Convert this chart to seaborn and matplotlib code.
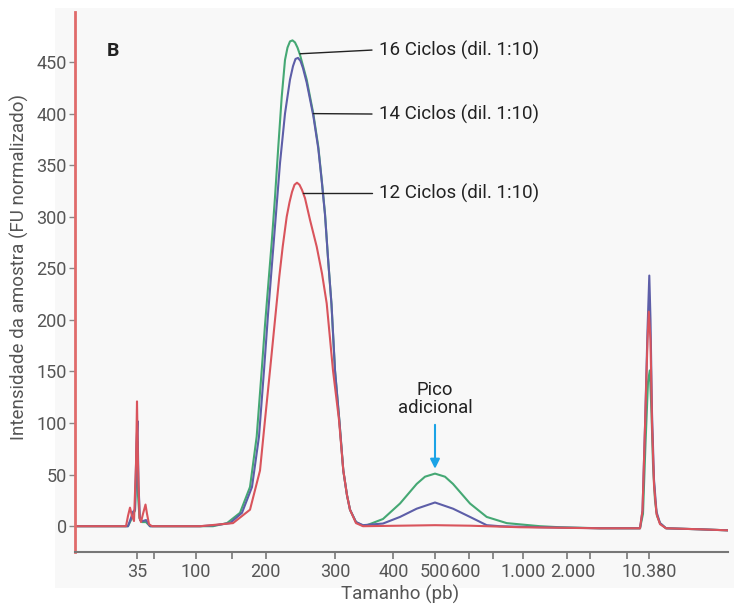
import matplotlib
matplotlib.use("Agg")
import matplotlib.pyplot as plt
from matplotlib.patches import Rectangle
from matplotlib.transforms import ScaledTranslation
import seaborn as sns
import pandas as pd

# ---------------- data (migration position, FU) ----------------
series_names = ["16 Ciclos (dil. 1:10)", "14 Ciclos (dil. 1:10)", "12 Ciclos (dil. 1:10)"]

pos_16 = [75, 120, 128, 131, 133, 135, 136.5, 137.2, 138, 139.5, 142, 146, 150, 200, 213, 227, 240, 250,
          256.7, 261.7, 265, 268.5, 271.7, 275, 278.3, 281.7, 285, 287.5, 290, 292.5, 295, 297.5, 300, 306.7,
          313.3, 318.3, 321.7, 325, 328, 331.5, 335, 339.3, 343.3, 347, 350, 356, 363, 367, 383, 400, 416.7,
          425, 435, 445, 453, 470, 486.7, 506.7, 540, 560, 600, 640, 643, 645.5, 648, 649.8, 651.5, 653,
          655, 657, 660, 666, 700, 728]
fu_16 = [0, 0, 0, 6, 12, 15, 60, 82, 30, 8, 4, 4, 0, 0, 0, 3, 13, 38,
         87, 151, 195, 237, 275, 319, 368, 416, 452, 464, 470, 471, 469, 464, 457, 433,
         400, 368, 336, 303, 260, 215, 151, 103, 54, 30, 16, 4, 0.5, 1, 7, 22, 41,
         48, 51, 48, 41, 22, 9, 3, 0, -1, -2, -2, 12, 80, 140, 151, 110, 60,
         25, 10, 3, -2, -3, -4]

pos_14 = [75, 120, 128, 131, 133, 135, 136.5, 137.5, 138.5, 140, 143, 146, 150, 200, 215, 230, 242, 252,
          259, 264, 268, 272.3, 276, 280, 285, 290, 293, 295.5, 298, 300.5, 303, 306.7, 313.3, 318.3, 321.7,
          325, 328, 331.5, 335, 339.3, 343.3, 347, 350, 356, 363, 383, 400, 416.7, 435, 453, 470, 486.7,
          500, 540, 600, 640, 642.5, 645, 647.5, 649.3, 650.5, 652, 654, 656.5, 660, 666, 700, 728]
fu_14 = [0, 0, 0, 8, 14, 16, 80, 102, 40, 6, 5, 6, 0, 0, 1, 3, 13, 38,
         87, 151, 205, 258, 303, 352, 400, 433, 446, 453, 454, 451, 444, 430, 398, 366, 335,
         302, 260, 215, 151, 103, 54, 30, 16, 4, 1, 2.6, 9, 17, 23, 17, 9, 1,
         0, -1, -2, -2, 15, 96, 190, 243, 200, 110, 45, 14, 3, -2, -3, -4]

pos_12 = [75, 120, 126, 128, 130, 132, 134, 136, 137, 138, 139.5, 141, 143, 145.5, 147, 149, 152, 200,
          233, 250, 260, 265, 270, 275, 279.3, 282.7, 286.7, 289.5, 292, 294.5, 297, 299.5, 302, 305,
          310, 316.7, 322, 326.7, 333, 339, 343.3, 347, 350, 356, 363, 400, 435, 470, 520, 600, 640,
          642.5, 645, 647.5, 648.8, 650.5, 652, 654, 656.5, 660, 666, 700, 728]
fu_12 = [0, 0, 0, 10, 18, 10, 5, 60, 121, 60, 8, 4, 12, 21, 12, 2, 0, 0,
         3, 16, 54, 103, 151, 200, 242, 271, 300, 314, 324, 331, 333, 331, 326, 318,
         297, 271, 245, 216, 151, 103, 54, 30, 16, 3, 0, 0.5, 1, 0.5, -1, -2, -2,
         15, 96, 180, 208, 180, 100, 40, 12, 2, -2, -3, -4]

tick_pos = [137, 196, 265.7, 335, 393.3, 435, 469.3, 522.7, 566.7, 649.3]
tick_labels = ["35", "100", "200", "300", "400", "500", "600", "1.000", "2.000", "10.380"]
minor_tick_pos = [154, 231.7, 493.3, 590, 626.7]
y_ticks = [0, 50, 100, 150, 200, 250, 300, 350, 400, 450]

df = pd.concat([
    pd.DataFrame({"pos": pos_16, "fu": fu_16, "serie": series_names[0]}),
    pd.DataFrame({"pos": pos_14, "fu": fu_14, "serie": series_names[1]}),
    pd.DataFrame({"pos": pos_12, "fu": fu_12, "serie": series_names[2]}),
], ignore_index=True)

# ---------------- style ----------------
sns.set_theme(style="white")
plt.rcParams["font.family"] = ["Roboto", "DejaVu Sans"]

fig = plt.figure(figsize=(7.34, 6.08), dpi=100)
fig.patch.set_facecolor("white")
bg = Rectangle((55 / 734, 20 / 608), 679 / 734, 580 / 608,
               transform=fig.transFigure, facecolor="#f8f8f8",
               edgecolor="none", zorder=-10)
fig.add_artist(bg)
ax = fig.add_axes([75 / 734, 56 / 608, 653 / 734, 540 / 608])
ax.set_zorder(5)
ax.set_facecolor("none")

palette = {series_names[0]: "#45a874", series_names[1]: "#5d5ea8", series_names[2]: "#d9545c"}
sns.lineplot(data=df, x="pos", y="fu", hue="serie", palette=palette, estimator=None,
             sort=False, legend=False, linewidth=1.5, ax=ax,
             hue_order=series_names)

ax.set_xlim(75, 728)
ax.set_ylim(-25, 498.5)

for s in ["top", "right"]:
    ax.spines[s].set_visible(False)
ax.spines["left"].set_color("#e06b6b")
ax.spines["left"].set_linewidth(2)
ax.spines["bottom"].set_color("#777777")
ax.spines["bottom"].set_linewidth(1.5)

ax.set_xticks(tick_pos)
ax.set_xticklabels(tick_labels)
ax.set_xticks(minor_tick_pos, minor=True)
ax.set_yticks(y_ticks)
ax.tick_params(axis="x", which="both", direction="out", length=5, width=1.2,
               color="#777777", labelsize=13, labelcolor="#555555", pad=3, bottom=True)
ax.tick_params(axis="y", direction="out", length=4, width=1, color="#888888",
               labelsize=13, labelcolor="#555555", pad=2, left=True)

# small label nudges as in the original layout
label_shift = {"600": -3, "2.000": 6}
for lab in ax.get_xticklabels():
    dx = label_shift.get(lab.get_text())
    if dx:
        lab.set_transform(lab.get_transform() + ScaledTranslation(dx / 100, 0, fig.dpi_scale_trans))

ax.set_xlabel("Tamanho (pb)", fontsize=13.5, color="#555555")
ax.set_ylabel("Intensidade da amostra (FU normalizado)", fontsize=13.5, color="#555555")
ax.xaxis.set_label_coords(0.498, -0.06)
ax.yaxis.set_label_coords(-0.071, 0.528)

# panel letter
ax.text(113, 461, "B", fontsize=14, fontweight="bold", color="#222222", ha="center", va="center")

# series labels with leader lines
label_specs = [(series_names[0], (300, 458), 461.6),
               (series_names[1], (313.3, 400), 399.6),
               (series_names[2], (303.3, 323), 323)]
for text, (px, py), ty in label_specs:
    ax.plot([px, 372], [py, ty], color="#222222", lw=1)
    ax.text(379, ty, text, fontsize=13.5, color="#222222", ha="left", va="center")

# additional peak annotation
ax.text(435, 123, "Pico\nadicional", fontsize=13.3, color="#222222", ha="center",
        va="center", linespacing=1.0)
ax.annotate("", xy=(435, 53), xytext=(435, 101),
            arrowprops=dict(arrowstyle="-|>", color="#1ba3e6", lw=1.5,
                            mutation_scale=14))

fig.savefig("out.png", dpi=100)
